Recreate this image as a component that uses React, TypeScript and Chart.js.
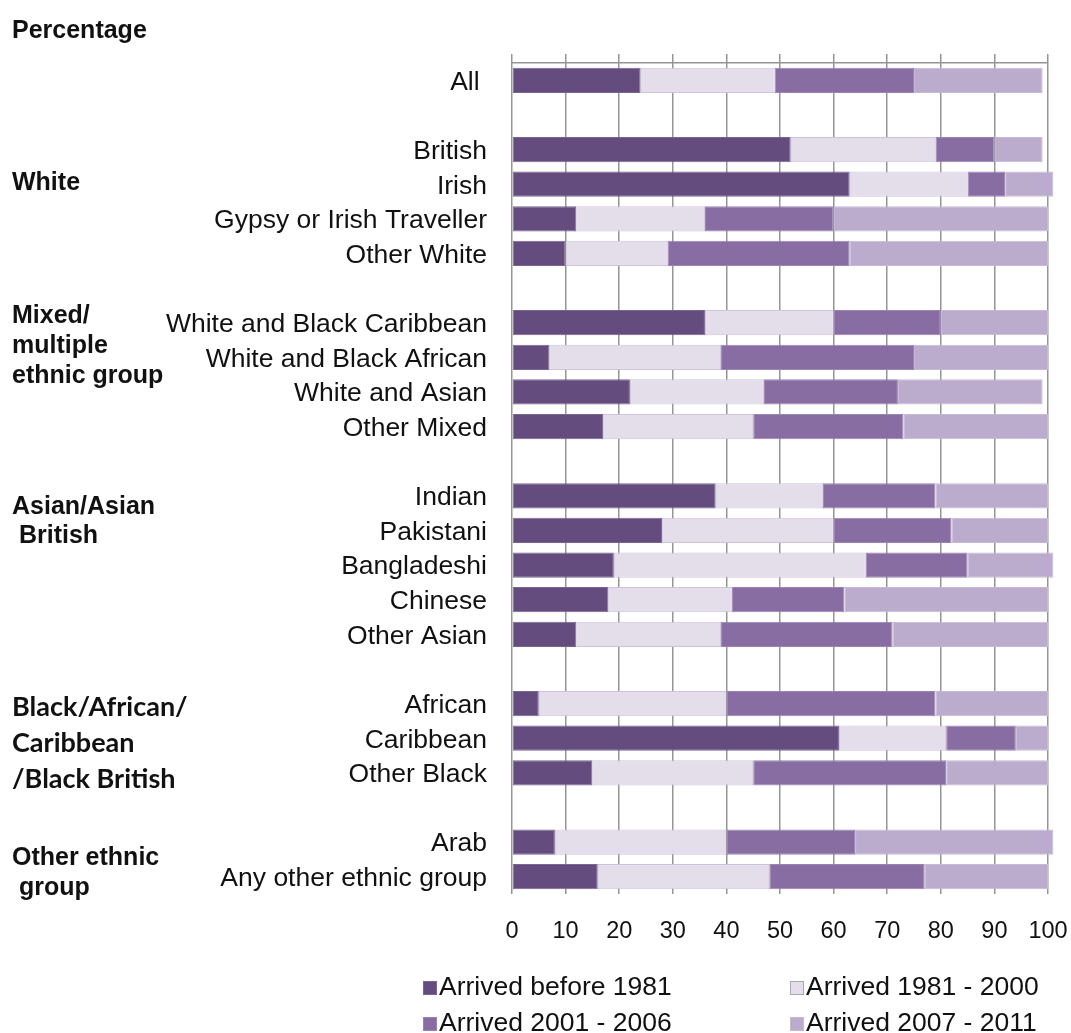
import React, { useEffect, useRef } from 'react';
import { Chart, registerables } from 'chart.js';

Chart.register(...registerables);

// ---- Data ----
const categories = [
  'All ', '',
  'British', 'Irish', 'Gypsy or Irish Traveller', 'Other White', '',
  'White and Black Caribbean', 'White and Black African', 'White and Asian', 'Other Mixed', '',
  'Indian', 'Pakistani', 'Bangladeshi', 'Chinese', 'Other Asian', '',
  'African', 'Caribbean', 'Other Black', '',
  'Arab', 'Any other ethnic group',
];

const seriesLabels = ['Arrived before 1981', 'Arrived 1981 - 2000', 'Arrived 2001 - 2006', 'Arrived 2007 - 2011'];

const before1981 = [24, null, 52, 63, 12, 10, null, 36, 7, 22, 17, null, 38, 28, 19, 18, 12, null, 5, 61, 15, null, 8, 16];
const arrived1981to2000 = [25, null, 27, 22, 24, 19, null, 24, 32, 25, 28, null, 20, 32, 47, 23, 27, null, 35, 20, 30, null, 32, 32];
const arrived2001to2006 = [26, null, 11, 7, 24, 34, null, 20, 36, 25, 28, null, 21, 22, 19, 21, 32, null, 39, 13, 36, null, 24, 29];
const arrived2007to2011 = [24, null, 9, 9, 40, 37, null, 20, 25, 27, 27, null, 21, 18, 16, 38, 29, null, 21, 6, 19, null, 37, 23];

const xMin = 0;
const xMax = 100;
const xStep = 10;

const axisTitle = 'Percentage';

const groupLabels = [
  { anchor: 'Irish', lines: ['White'] },
  { anchor: 'White and Black Caribbean', lines: ['Mixed/', 'multiple', 'ethnic group'] },
  { anchor: 'Indian', lines: ['Asian/Asian', ' British'] },
  { anchor: 'African', lines: ['Black/African/', 'Caribbean', '/Black British'] },
  { anchor: 'Arab', lines: ['Other ethnic', ' group'] },
];

// ---- Styles ----
const colors = ['#644D7E', '#E4DEEB', '#886DA2', '#BBACCD'];
const borderColors = ['#7A6592', '#CFC3DD', '#9A82B2', '#C7B9D6'];
const ARIAL = '"Liberation Sans", Arial, sans-serif';
const groupStyle = [
  { dy: -1, gap: 30, family: ARIAL, size: 25 },
  { dy: -7, gap: 30, family: ARIAL, size: 25 },
  { dy: 11, gap: 29, family: ARIAL, size: 25 },
  { dy: 4, gap: 36, family: 'Lato, "Liberation Sans", sans-serif', size: 27 },
  { dy: 16, gap: 30, family: ARIAL, size: 25 },
];
const GRID = '#959595';
const TEXT = '#111111';

const overlayPlugin = {
  id: 'overlay',
  afterDraw(chart: any) {
    const ctx = chart.ctx as CanvasRenderingContext2D;
    const yScale = chart.scales.y;
    const area = chart.chartArea;
    ctx.save();
    ctx.fillStyle = TEXT;
    ctx.textAlign = 'left';
    ctx.textBaseline = 'middle';
    ctx.font = `bold 25px ${ARIAL}`;
    ctx.fillText(axisTitle, 12, area.top - 32);

    groupLabels.forEach((g, gi) => {
      const st = groupStyle[gi];
      const idx = categories.indexOf(g.anchor);
      const y0 = yScale.getPixelForValue(idx) + st.dy;
      ctx.font = `bold ${st.size}px ${st.family}`;
      g.lines.forEach((line, li) => {
        ctx.fillText(line, 12, y0 + li * st.gap);
      });
    });

    // legend (2 x 2)
    const colX = [423, 790];
    const rowY = [area.bottom + 94, area.bottom + 130];
    ctx.font = `26.5px ${ARIAL}`;
    [0, 1, 2, 3].forEach((di, k) => {
      const ds = chart.data.datasets[di];
      const x = colX[k % 2];
      const y = rowY[Math.floor(k / 2)];
      ctx.fillStyle = ds.backgroundColor;
      ctx.fillRect(x, y - 7, 14, 14);
      ctx.strokeStyle = di === 1 ? '#A9A9B5' : ds.borderColor;
      ctx.lineWidth = 1;
      ctx.strokeRect(x + 0.5, y - 6.5, 13, 13);
      ctx.fillStyle = TEXT;
      ctx.fillText(ds.label, x + 16, y);
    });
    ctx.restore();
  },
};

export default function App() {
  const canvasRef = useRef<HTMLCanvasElement | null>(null);

  useEffect(() => {
    if (!canvasRef.current) return;
    const series = [before1981, arrived1981to2000, arrived2001to2006, arrived2007to2011];
    const chart = new Chart(canvasRef.current, {
      type: 'bar',
      data: {
        labels: categories,
        datasets: series.map((d, i) => ({
          label: seriesLabels[i],
          data: d,
          backgroundColor: colors[i],
          borderColor: borderColors[i],
          borderWidth: 1,
          borderSkipped: false,
          categoryPercentage: 1,
          barPercentage: 0.73,
          clip: false as any,
        })),
      },
      options: {
        indexAxis: 'y',
        animation: false,
        responsive: true,
        maintainAspectRatio: false,
        layout: { padding: { left: 0, right: 23, top: 0, bottom: 0 } },
        plugins: {
          legend: { display: false },
          tooltip: { enabled: false },
          title: { display: false },
        },
        scales: {
          x: {
            type: 'linear',
            position: 'bottom',
            stacked: true,
            min: xMin,
            max: xMax,
            ticks: {
              stepSize: xStep,
              color: TEXT,
              padding: 0,
              font: { family: ARIAL, size: 23.5 },
              maxRotation: 0,
            },
            grid: { color: GRID, lineWidth: 1.5, drawTicks: true, tickLength: 23, tickColor: 'rgba(0,0,0,0)' },
            border: { display: false },
            afterFit: (scale: any) => { scale.height = 139; },
          },
          xTop: {
            type: 'linear',
            position: 'top',
            min: xMin,
            max: xMax,
            ticks: { stepSize: xStep, display: false, padding: 0 },
            grid: { color: GRID, lineWidth: 1.5, drawOnChartArea: false, drawTicks: true, tickLength: 9 },
            border: { display: true, color: GRID, width: 1.5 },
            afterFit: (scale: any) => { scale.height = 63; },
          },
          y: {
            type: 'category',
            stacked: true,
            grid: { display: false, drawTicks: false },
            border: { display: false },
            ticks: {
              color: TEXT,
              padding: 25,
              labelOffset: 2,
              autoSkip: false,
              font: { family: ARIAL, size: 26.5 },
            },
            afterFit: (scale: any) => { scale.width = 512; },
          },
        },
      },
      plugins: [overlayPlugin],
    });
    return () => chart.destroy();
  }, []);

  return (
    <div style={{ position: 'absolute', left: 0, top: 0, width: 1071, height: 1033, background: '#fff' }}>
      <canvas ref={canvasRef} />
    </div>
  );
}
